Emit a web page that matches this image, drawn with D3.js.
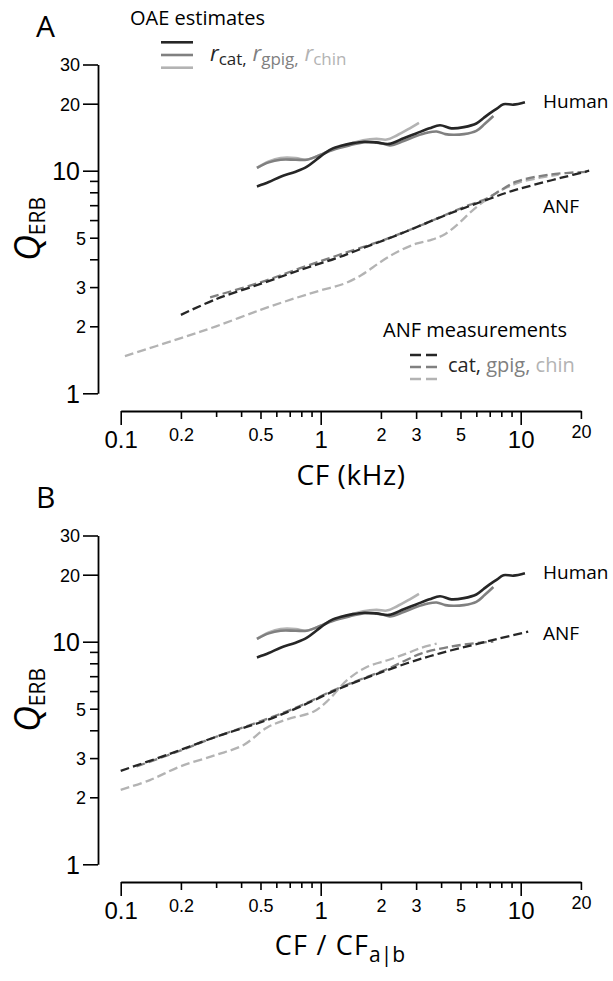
<!DOCTYPE html>
<html>
<head>
<meta charset="utf-8">
<script src="https://cdn.jsdelivr.net/npm/d3@7"></script>
<style>
  body { margin: 0; background: #fff; }
  svg { font-family: "Open Sans", "Noto Sans", sans-serif; }
</style>
</head>
<body>
<div class="graph-area"></div>
<script>
const width = 613
const height = 981

// OAE-derived Q estimates (same curves in both panels)
const oaeCatCf   = [0.48, 0.55, 0.63, 0.75, 0.85, 0.95, 1.05, 1.15, 1.25, 1.45, 1.65, 1.9, 2.2, 2.6, 3.0, 3.5, 3.95, 4.5, 5.2, 6.0, 6.5, 7.0, 7.6, 8.2, 9.2, 10.5]
const oaeCatQ    = [8.5, 8.9, 9.4, 9.9, 10.4, 11.2, 12.0, 12.6, 12.9, 13.3, 13.5, 13.4, 13.2, 14.0, 14.7, 15.5, 16.0, 15.5, 15.7, 16.3, 17.2, 18.1, 19.0, 19.9, 19.8, 20.3]
const oaeGpigCf  = [0.48, 0.55, 0.63, 0.75, 0.85, 1.0, 1.15, 1.4, 1.63, 2.0, 2.22, 2.6, 3.0, 3.4, 3.8, 4.2, 4.6, 5.2, 6.0, 6.6, 7.3]
const oaeGpigQ   = [10.3, 10.9, 11.2, 11.2, 11.2, 11.8, 12.4, 13.0, 13.4, 13.3, 13.0, 13.6, 14.3, 14.8, 15.0, 14.6, 14.5, 14.6, 15.1, 16.2, 17.6]
const oaeChinCf  = [0.48, 0.55, 0.63, 0.75, 0.85, 1.0, 1.15, 1.4, 1.63, 1.9, 2.14, 2.4, 2.79, 3.1]
const oaeChinQ   = [10.3, 11.0, 11.4, 11.4, 11.2, 11.8, 12.5, 13.2, 13.7, 13.9, 13.8, 14.4, 15.5, 16.4]

// ANF measurements, panel A (CF in kHz)
const anfCatCfA  = [0.2, 0.3, 0.5, 0.79, 1.2, 1.7, 2.5, 3.66, 5, 6.76, 9, 11.6, 16, 22]
const anfCatQA   = [2.25, 2.65, 3.1, 3.58, 4.05, 4.56, 5.2, 6.0, 6.7, 7.4, 8.1, 8.63, 9.3, 10.0]
const anfGpigCfA = [0.28, 0.5, 0.79, 1.2, 2.06, 3.2, 4.5, 5.5, 6.76, 8, 9.5, 13.9, 22]
const anfGpigQA  = [2.7, 3.15, 3.65, 4.15, 4.88, 5.7, 6.5, 7.0, 7.5, 8.2, 8.93, 9.6, 9.9]
const anfChinCfA = [0.105, 0.2, 0.3, 0.5, 0.75, 1.0, 1.3, 1.6, 2.0, 2.4, 3.0, 3.6, 4.2, 4.9, 5.6, 6.3, 7.3, 8.5, 10, 12.5, 15.5]
const anfChinQA  = [1.47, 1.77, 2.0, 2.37, 2.68, 2.9, 3.1, 3.4, 3.9, 4.3, 4.7, 4.9, 5.2, 5.8, 6.5, 7.1, 7.8, 8.4, 8.9, 9.3, 9.6]

// ANF measurements, panel B (normalized CF)
const anfCatCfB  = [0.1, 0.17, 0.3, 0.54, 0.79, 1.16, 1.6, 2.7, 3.95, 5.78, 7.87, 10.9]
const anfCatQB   = [2.63, 3.1, 3.74, 4.45, 5.11, 6.0, 6.75, 8.0, 8.87, 9.67, 10.36, 11.1]
const anfGpigCfB = [0.12, 0.2, 0.3, 0.54, 0.79, 1.16, 1.6, 2.2, 2.7, 3.2, 4.44, 6.3, 7.3]
const anfGpigQB  = [2.75, 3.25, 3.74, 4.5, 5.15, 6.05, 6.8, 7.6, 8.3, 8.87, 9.5, 9.9, 10.0]
const anfChinCfB = [0.1, 0.14, 0.2, 0.3, 0.41, 0.54, 0.68, 0.92, 1.1, 1.35, 1.7, 2.2, 2.7, 3.2, 3.8]
const anfChinQB  = [2.16, 2.39, 2.76, 3.10, 3.43, 4.12, 4.48, 4.85, 5.5, 6.7, 7.7, 8.3, 8.87, 9.4, 9.8]

// ticks
const xTicks = [0.1,0.2,0.3,0.4,0.5,0.6,0.7,0.8,0.9,1,2,3,4,5,6,7,8,9,10,20]
const xBigLabels = [0.1, 1, 10]
const xSmallLabels = [0.2, 0.5, 2, 3, 5, 20]
const yTicks = [1,2,3,4,5,6,7,8,9,10,20,30]
const yBigLabels = [1, 10]
const ySmallLabels = [2, 3, 5, 20, 30]

const colCat = '#262626', colGpig = '#808080', colChin = '#b3b3b3'

const svg = d3.select(".graph-area").append("svg")
    .attr("width", width).attr("height", height)
    .attr("viewBox", [0, 0, width, height])

const x = d3.scaleLog().domain([0.1, 20]).range([120.7, 580.9])
const y = d3.scaleLog().domain([1, 30]).range([393.3, 64.5])

const zip = (f, q) => f.map((d, i) => [d, q[i]])
const line = d3.line().x(d => x(d[0])).y(d => y(d[1])).curve(d3.curveCatmullRom.alpha(0.5))

const panels = [
    {label: 'A', dy: 0, anf: [[anfChinCfA, anfChinQA, colChin], [anfGpigCfA, anfGpigQA, colGpig], [anfCatCfA, anfCatQA, colCat]]},
    {label: 'B', dy: 471, anf: [[anfChinCfB, anfChinQB, colChin], [anfGpigCfB, anfGpigQB, colGpig], [anfCatCfB, anfCatQB, colCat]]}
]

panels.forEach(p => {
    const g = svg.append('g').attr('transform', `translate(0,${p.dy})`)

    g.append('text').attr('x', 36).attr('y', 37).attr('font-size', 30).text(p.label)

    // y axis
    const yAxis = g.append('g').attr('transform', 'translate(98,0)')
        .call(d3.axisLeft(y).tickValues(yTicks).tickSizeOuter(0).tickFormat(d => d))
    yAxis.select('.domain').attr('stroke-width', 1.8)
    yAxis.selectAll('.tick line').attr('stroke-width', 1.6)
        .attr('x2', d => yBigLabels.includes(d) || d >= 20 ? -15 : -8)
    yAxis.selectAll('.tick text')
        .attr('fill', '#000').attr('dy', '0.35em')
        .attr('x', d => yBigLabels.includes(d) || d >= 20 ? -18 : -12)
        .attr('font-size', d => yBigLabels.includes(d) ? 25 : 18)
        .attr('font-family', null)
        .style('display', d => yBigLabels.includes(d) || ySmallLabels.includes(d) ? null : 'none')

    // x axis
    const xAxis = g.append('g').attr('transform', 'translate(0,411)')
        .call(d3.axisBottom(x).tickValues(xTicks).tickSizeOuter(0).tickFormat(d => d))
    xAxis.select('.domain').attr('stroke-width', 1.8)
    xAxis.selectAll('.tick line').attr('stroke-width', 1.6)
        .attr('y2', d => xBigLabels.includes(d) ? 14 : (xSmallLabels.includes(d) ? 8 : 6))
    xAxis.selectAll('.tick text')
        .attr('fill', '#000').attr('dy', 0)
        .attr('y', d => xBigLabels.includes(d) ? 37 : (d === 20 ? 27 : 30))
        .attr('font-size', d => xBigLabels.includes(d) ? 24 : 18)
        .attr('font-family', null)
        .style('display', d => xBigLabels.includes(d) || xSmallLabels.includes(d) ? null : 'none')
    xAxis.selectAll('.domain, .tick line').attr('stroke', '#000')

    // y title
    const yt = g.append('text').attr('transform', 'translate(40,229) rotate(-90)')
        .attr('text-anchor', 'middle')
    yt.append('tspan').attr('font-size', 36).attr('font-style', 'italic').text('Q')
    yt.append('tspan').attr('font-size', 21).attr('dy', 5).text('ERB')

    // ANF curves
    p.anf.forEach(([f, q, c]) => {
        g.append('path').datum(zip(f, q)).attr('d', line)
            .attr('fill', 'none').attr('stroke', c).attr('stroke-width', 2.3)
            .attr('stroke-dasharray', '9,4')
    })

    // OAE curves
    ;[[oaeChinCf, oaeChinQ, colChin], [oaeGpigCf, oaeGpigQ, colGpig], [oaeCatCf, oaeCatQ, colCat]].forEach(([f, q, c]) => {
        g.append('path').datum(zip(f, q)).attr('d', line)
            .attr('fill', 'none').attr('stroke', c).attr('stroke-width', 2.6)
    })

    g.append('text').attr('x', 543).attr('y', 108).attr('font-size', 19).text('Human')
    g.append('text').attr('x', 543).attr('y', p.label === 'A' ? 213 : 169).attr('font-size', 19).text('ANF')
})

// x titles
svg.append('text').attr('x', 351).attr('y', 485).attr('text-anchor', 'middle')
    .attr('font-size', 28).attr('letter-spacing', 0.6).text('CF (kHz)')
const xtB = svg.append('text').attr('x', 340).attr('y', 955).attr('text-anchor', 'middle').attr('font-size', 27)
xtB.append('tspan').attr('letter-spacing', 1.2).text('CF / CF')
xtB.append('tspan').attr('font-size', 21).attr('dy', 7).text('a|b')

// OAE legend
svg.append('text').attr('x', 130).attr('y', 25).attr('font-size', 20).text('OAE estimates')
;[colCat, colGpig, colChin].forEach((c, i) => {
    svg.append('line').attr('x1', 161).attr('x2', 193)
        .attr('y1', 42.3 + i * 12.7).attr('y2', 42.3 + i * 12.7)
        .attr('stroke', c).attr('stroke-width', 2.6)
})
const oaeLeg = svg.append('text').attr('x', 210).attr('y', 61).attr('font-size', 22)
;[['cat', colCat], ['gpig', colGpig], ['chin', colChin]].forEach(([s, c], i) => {
    oaeLeg.append('tspan').attr('fill', c).attr('font-style', 'italic').attr('dy', i ? -4 : 0).text((i ? ' ' : '') + 'r')
    oaeLeg.append('tspan').attr('fill', c).attr('font-size', 17).attr('dy', 4).text(s + (i < 2 ? ',' : ''))
})

// ANF legend
svg.append('text').attr('x', 383).attr('y', 337).attr('font-size', 20).text('ANF measurements')
;[colCat, colGpig, colChin].forEach((c, i) => {
    svg.append('line').attr('x1', 410).attr('x2', 437)
        .attr('y1', 355 + i * 12).attr('y2', 355 + i * 12)
        .attr('stroke', c).attr('stroke-width', 2.3).attr('stroke-dasharray', '11,5')
})
const anfLeg = svg.append('text').attr('x', 448).attr('y', 372).attr('font-size', 20)
anfLeg.append('tspan').attr('fill', colCat).text('cat, ')
anfLeg.append('tspan').attr('fill', colGpig).text('gpig, ')
anfLeg.append('tspan').attr('fill', colChin).text('chin')
</script>
</body>
</html>
